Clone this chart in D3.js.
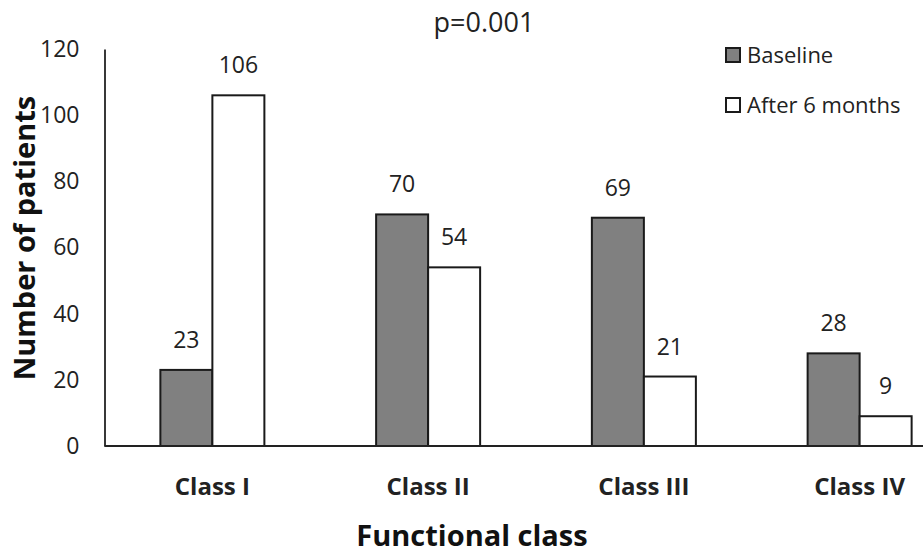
<!DOCTYPE html>
<html>
<head>
<meta charset="utf-8">
<script src="https://cdn.jsdelivr.net/npm/d3@7"></script>
<style>
  body { margin: 0; background: #fff; }
  svg { display: block; font-family: "Open Sans", sans-serif; }
</style>
</head>
<body>
<svg id="chart" width="923" height="553"></svg>
<script>
// data
const classes = ['Class I', 'Class II', 'Class III', 'Class IV'];
const seriesNames = ['Baseline', 'After 6 months'];
const baseline = [23, 70, 69, 28];
const after6 = [106, 54, 21, 9];
const yTicks = [0, 20, 40, 60, 80, 100, 120];
const fills = ['#808080', '#ffffff'];

var width = 923, height = 553;
var svg = d3.select('#chart');

// plot runs off the right edge in the original, so the last band is cut
var x = d3.scaleBand().domain(classes).range([104.5, 967.5]).padding(0);
var inner = d3.scaleBand().domain(seriesNames).range([0, 104]).padding(0);
var y = d3.scaleLinear().domain([0, 120]).range([446, 49]);

var rows = classes.map(function(c, i) {
  return { cls: c, vals: [baseline[i], after6[i]] };
});

// y axis
var yAxis = d3.axisLeft(y).tickValues(yTicks).tickSize(0).tickPadding(25);
var gy = svg.append('g').attr('transform', 'translate(' + x.range()[0] + ',0)').call(yAxis);
gy.select('.domain').attr('stroke', '#222').attr('stroke-width', 1.8);
gy.selectAll('text').attr('font-size', 23).attr('fill', '#222')
  .attr('font-family', '"Open Sans", sans-serif');

// bars
var groups = svg.selectAll('g.cls')
  .data(rows)
  .enter()
  .append('g')
  .attr('class', 'cls')
  .attr('transform', function(d) { return 'translate(' + (x(d.cls) + (x.bandwidth() - 104) / 2) + ',0)'; });

groups.selectAll('rect')
  .data(function(d) { return d.vals.map(function(v, i) { return { name: seriesNames[i], v: v, i: i }; }); })
  .enter()
  .append('rect')
  .attr('x', function(d) { return inner(d.name); })
  .attr('y', function(d) { return y(d.v); })
  .attr('width', inner.bandwidth())
  .attr('height', function(d) { return y(0) - y(d.v); })
  .attr('fill', function(d) { return fills[d.i]; })
  .attr('stroke', '#1a1a1a')
  .attr('stroke-width', 2);

groups.selectAll('text.val')
  .data(function(d) { return d.vals.map(function(v, i) { return { name: seriesNames[i], v: v }; }); })
  .enter()
  .append('text')
  .attr('class', 'val')
  .attr('x', function(d) { return inner(d.name) + inner.bandwidth() / 2; })
  .attr('y', function(d) { return y(d.v) - 22; })
  .attr('text-anchor', 'middle')
  .attr('font-size', 23)
  .attr('fill', '#222')
  .text(function(d) { return d.v; });

// x axis line + category labels
var xAxis = d3.axisBottom(x).tickSize(0).tickPadding(0);
var gx = svg.append('g').attr('transform', 'translate(0,' + y(0) + ')').call(xAxis);
gx.select('.domain').attr('d', 'M' + x.range()[0] + ',0H' + width)
  .attr('stroke', '#222').attr('stroke-width', 1.8);
gx.selectAll('text')
  .attr('y', 49)
  .attr('dy', 0)
  .attr('font-size', 24)
  .attr('font-weight', 700)
  .attr('font-family', '"Open Sans", sans-serif')
  .attr('fill', '#222');

// titles
svg.append('text')
  .attr('x', 484).attr('y', 32)
  .attr('text-anchor', 'middle')
  .attr('font-size', 27)
  .attr('fill', '#222')
  .text('p=0.001');

svg.append('text')
  .attr('transform', 'translate(35,238) rotate(-90)')
  .attr('text-anchor', 'middle')
  .attr('font-size', 29)
  .attr('font-weight', 700)
  .attr('fill', '#111')
  .text('Number of patients');

svg.append('text')
  .attr('x', 472).attr('y', 546)
  .attr('text-anchor', 'middle')
  .attr('font-size', 29)
  .attr('font-weight', 700)
  .attr('fill', '#111')
  .text('Functional class');

// legend
var legend = svg.append('g')
  .selectAll('g')
  .data(seriesNames)
  .enter()
  .append('g')
  .attr('transform', function(d, i) { return 'translate(726,' + (48 + i * 50) + ')'; });

legend.append('rect')
  .attr('width', 14).attr('height', 14)
  .attr('fill', function(d, i) { return fills[i]; })
  .attr('stroke', '#1a1a1a')
  .attr('stroke-width', 2);

legend.append('text')
  .attr('x', 21).attr('y', 15)
  .attr('font-size', 22)
  .attr('fill', '#222')
  .text(function(d) { return d; });
</script>
</body>
</html>
